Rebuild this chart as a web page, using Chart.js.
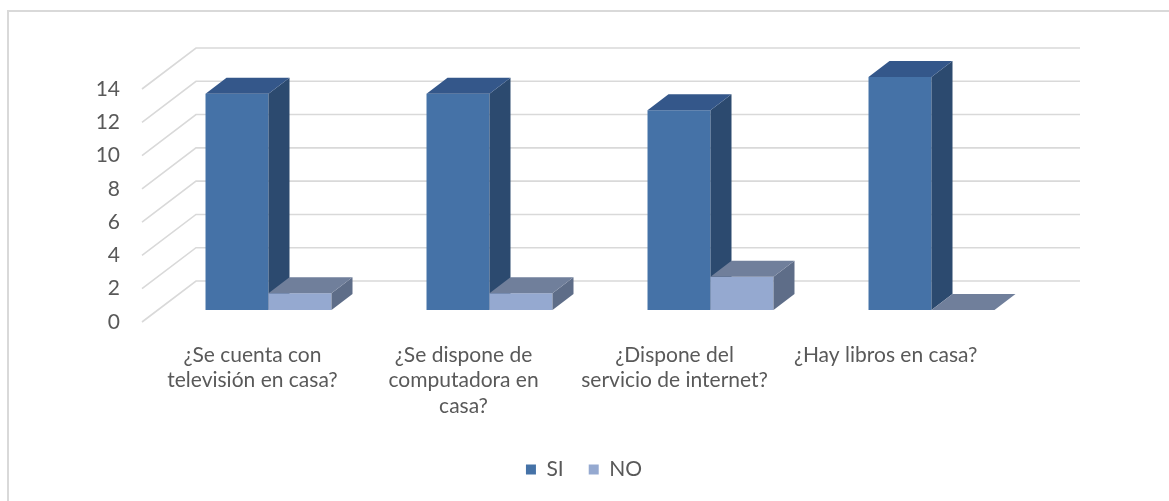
<!DOCTYPE html>
<html>
<head>
<meta charset="utf-8">
<script src="https://cdn.jsdelivr.net/npm/chart.js@4.4.1/dist/chart.umd.min.js"></script>
<style>
  html, body { margin: 0; padding: 0; background: #fff; overflow: hidden; }
  #frame { position: absolute; left: 7px; top: 10px; width: 1180px; height: 510px;
           border: 2px solid #d9d9d9; box-sizing: border-box; }
  #chart { position: absolute; left: 0; top: 0; }
</style>
</head>
<body>
<div id="frame"></div>
<canvas id="chart" width="1169" height="501"></canvas>
<script>
// data
const categories = [
    ['¿Se cuenta con', 'televisión en casa?'],
    ['¿Se dispone de', 'computadora en', 'casa?'],
    ['¿Dispone del', 'servicio de internet?'],
    ['¿Hay libros en casa?']
];
const seriesNames = ['SI', 'NO'];
const siValues = [13, 13, 12, 14];
const noValues = [1, 1, 2, 0];
const yTicks = [0, 2, 4, 6, 8, 10, 12, 14];

const FONT = { family: "Lato, 'Open Sans', sans-serif", size: 21 };
const TEXT = '#595959';

// fake 3d: floor depth, bar front plane and bar depth (px)
const WALL = { dx: 54, dy: -41 };
const FRONT = { dx: 16, dy: -12 };
const DEPTH = { dx: 21, dy: -16 };
const faces = [
    { front: '#4572a7', top: '#34578a', side: '#2c4a6f' },
    { front: '#95a9d0', top: '#707f9b', side: '#5e6d88' }
];
const labelStep = 0.955; // excel squeezes the category labels a bit
const labelTop = 33;     // first label line below the floor
const labelLine = 25.5;

function poly(ctx, color, pts) {
    ctx.fillStyle = color;
    ctx.beginPath();
    pts.forEach((p, i) => i ? ctx.lineTo(p[0], p[1]) : ctx.moveTo(p[0], p[1]));
    ctx.closePath();
    ctx.fill();
}

const box3d = {
    id: 'box3d',
    beforeDatasetsDraw(chart) {
        const { ctx, chartArea: a, scales: { y } } = chart;
        ctx.save();
        // side wall + back wall gridlines
        ctx.strokeStyle = '#d9d9d9';
        ctx.lineWidth = 1.6;
        y.ticks.forEach(t => {
            const py = y.getPixelForValue(t.value);
            ctx.beginPath();
            ctx.moveTo(a.left, py);
            ctx.lineTo(a.left + WALL.dx, py + WALL.dy);
            ctx.lineTo(a.right + WALL.dx, py + WALL.dy);
            ctx.stroke();
        });
        // bars, left to right, SI before NO
        const metas = chart.getSortedVisibleDatasetMetas();
        categories.forEach((c, j) => {
            metas.forEach(meta => {
                const bar = meta.data[j];
                const col = faces[meta.index];
                const l = bar.x - bar.width / 2 + FRONT.dx;
                const r = bar.x + bar.width / 2 + FRONT.dx;
                const t = bar.y + FRONT.dy;
                const b = bar.base + FRONT.dy;
                poly(ctx, col.front, [[l, t], [r, t], [r, b], [l, b]]);
                poly(ctx, col.side, [[r, t], [r + DEPTH.dx, t + DEPTH.dy], [r + DEPTH.dx, b + DEPTH.dy], [r, b]]);
                poly(ctx, col.top, [[l, t], [r, t], [r + DEPTH.dx, t + DEPTH.dy], [l + DEPTH.dx, t + DEPTH.dy]]);
            });
        });
        ctx.restore();
        return false;
    },
    afterDraw(chart) {
        // category labels, placed through the x scale
        const { ctx, chartArea: a, scales: { x } } = chart;
        ctx.save();
        ctx.fillStyle = TEXT;
        ctx.font = FONT.size + 'px ' + FONT.family;
        ctx.textAlign = 'center';
        ctx.textBaseline = 'middle';
        categories.forEach((lines, i) => {
            const px = x.getPixelForValue(i * labelStep);
            lines.forEach((s, k) => ctx.fillText(s, px, a.bottom + labelTop + k * labelLine));
        });
        ctx.restore();
    }
};

new Chart(document.getElementById('chart'), {
    type: 'bar',
    data: {
        labels: categories,
        datasets: [
            { label: seriesNames[0], data: siValues, backgroundColor: faces[0].front },
            { label: seriesNames[1], data: noValues, backgroundColor: faces[1].front }
        ]
    },
    options: {
        responsive: false,
        animation: false,
        categoryPercentage: 0.57,
        barPercentage: 1,
        layout: { padding: { left: 0, right: 143, top: 89, bottom: 11 } },
        plugins: {
            legend: {
                position: 'bottom',
                fullSize: false,
                labels: { boxWidth: 10, boxHeight: 10, padding: 25, color: TEXT, font: FONT }
            },
            tooltip: { enabled: false }
        },
        scales: {
            x: {
                afterFit: s => { s.height = 112; },
                grid: { display: false, drawTicks: false },
                border: { display: false },
                ticks: { display: false }
            },
            y: {
                min: yTicks[0],
                max: yTicks[yTicks.length - 1],
                afterFit: s => { s.width = 142; },
                grid: { display: false, drawTicks: false },
                border: { display: false },
                ticks: { stepSize: yTicks[1] - yTicks[0], padding: 22, color: TEXT, font: FONT }
            }
        }
    },
    plugins: [box3d]
});
</script>
</body>
</html>
